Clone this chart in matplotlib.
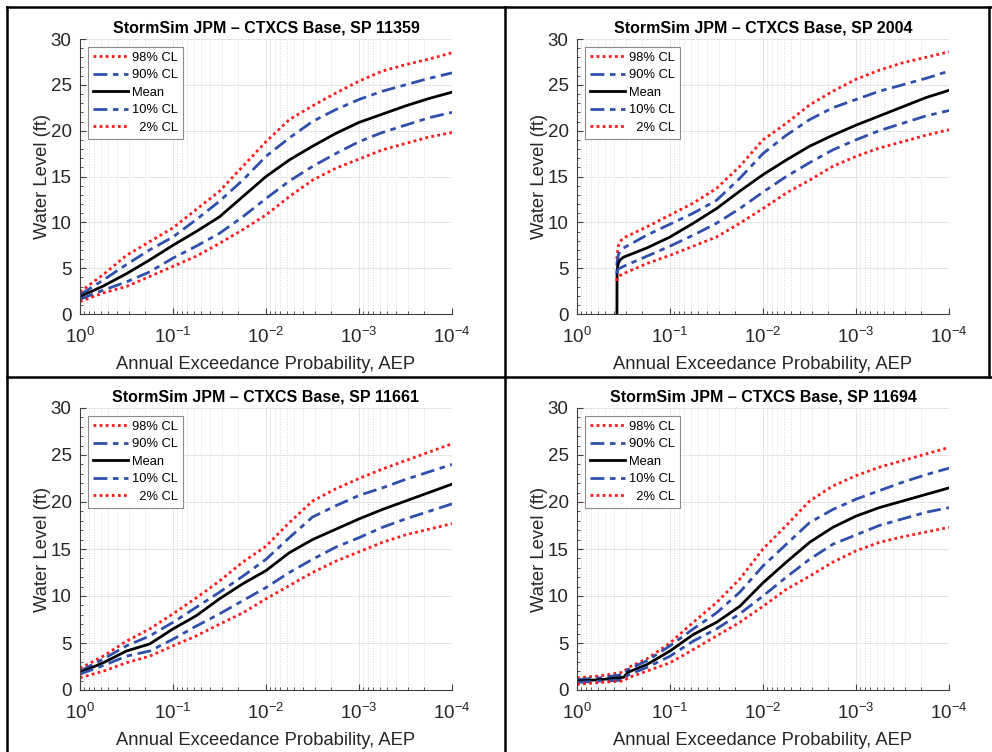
import matplotlib
matplotlib.use("Agg")
import matplotlib.pyplot as plt
from matplotlib.lines import Line2D
from matplotlib.ticker import LogLocator, MultipleLocator, NullFormatter

plt.rcParams['font.family'] = ['Liberation Sans', 'DejaVu Sans']
plt.rcParams['mathtext.fontset'] = 'custom'
plt.rcParams['mathtext.rm'] = 'Liberation Sans'
plt.rcParams['mathtext.default'] = 'regular'

# AEP values (quarter decades) used for SP 11359 and SP 11661
aep_std = [1.0, 0.5623, 0.3162, 0.1778, 0.1, 0.05623, 0.03162, 0.01778, 0.01,
           0.005623, 0.003162, 0.001778, 0.001, 0.0005623, 0.0003162, 0.0001778, 0.0001]

# SP 11359
mean_11359 = [1.9, 3.05, 4.4, 5.9, 7.5, 9.0, 10.6, 12.8, 15.0, 16.8, 18.3, 19.7, 20.9, 21.8, 22.7, 23.5, 24.2]
cl98_11359 = [2.4, 4.3, 6.4, 7.9, 9.4, 11.4, 13.4, 16.1, 18.8, 21.2, 22.7, 24.1, 25.4, 26.5, 27.2, 27.8, 28.5]
cl90_11359 = [2.1, 3.7, 5.4, 7.0, 8.4, 10.3, 12.3, 14.6, 17.2, 19.2, 21.0, 22.3, 23.4, 24.3, 25.0, 25.7, 26.3]
cl10_11359 = [1.6, 2.6, 3.5, 4.6, 6.1, 7.4, 8.8, 10.6, 12.6, 14.5, 16.1, 17.5, 18.8, 19.8, 20.6, 21.4, 22.0]
cl02_11359 = [1.35, 2.3, 3.0, 4.1, 5.2, 6.3, 7.7, 9.2, 10.8, 12.8, 14.6, 15.9, 16.9, 17.9, 18.6, 19.3, 19.8]

# SP 2004 (curve starts near AEP 0.37)
aep_2004 = [0.372, 0.371, 0.36, 0.345, 0.3162, 0.1778, 0.1, 0.05623, 0.03162, 0.01778, 0.01,
            0.005623, 0.003162, 0.001778, 0.001, 0.0005623, 0.0003162, 0.0001778, 0.0001]
mean_2004 = [0.0, 4.8, 5.5, 5.9, 6.2, 7.2, 8.4, 9.9, 11.5, 13.4, 15.2, 16.8, 18.3, 19.5, 20.6, 21.6, 22.6, 23.6, 24.4]
cl98_2004 = [6.0, 6.3, 7.4, 7.9, 8.3, 9.5, 10.8, 12.1, 13.7, 16.1, 19.0, 20.8, 22.8, 24.3, 25.6, 26.6, 27.4, 28.0, 28.6]
cl90_2004 = [5.3, 5.6, 6.4, 6.8, 7.2, 8.6, 9.8, 11.0, 12.4, 14.8, 17.5, 19.5, 21.2, 22.5, 23.4, 24.3, 25.0, 25.7, 26.5]
cl10_2004 = [4.4, 4.6, 4.9, 5.0, 5.2, 6.3, 7.4, 8.6, 9.9, 11.5, 13.3, 15.0, 16.5, 17.9, 19.0, 20.0, 20.8, 21.6, 22.2]
cl02_2004 = [3.6, 3.8, 4.1, 4.2, 4.4, 5.5, 6.4, 7.4, 8.4, 9.9, 11.5, 13.2, 14.6, 16.1, 17.2, 18.1, 18.8, 19.5, 20.1]

# SP 11661
mean_11661 = [1.85, 2.9, 4.15, 4.9, 6.5, 7.9, 9.7, 11.3, 12.7, 14.6, 16.0, 17.1, 18.2, 19.2, 20.1, 21.0, 21.9]
cl98_11661 = [2.3, 3.6, 5.2, 6.5, 8.1, 9.8, 11.6, 13.6, 15.3, 17.8, 20.1, 21.4, 22.5, 23.5, 24.4, 25.3, 26.2]
cl90_11661 = [2.0, 3.3, 4.7, 5.75, 7.2, 8.8, 10.4, 12.1, 13.9, 16.2, 18.4, 19.6, 20.7, 21.5, 22.4, 23.2, 24.0]
cl10_11661 = [1.7, 2.6, 3.6, 4.15, 5.4, 6.8, 8.1, 9.5, 10.9, 12.5, 13.9, 15.2, 16.2, 17.3, 18.2, 19.0, 19.8]
cl02_11661 = [1.3, 2.0, 2.9, 3.6, 4.7, 5.75, 7.0, 8.2, 9.7, 11.1, 12.5, 13.7, 14.7, 15.7, 16.5, 17.1, 17.7]

# SP 11694 (extra point at the small bump near AEP 0.28)
aep_11694 = [1.0, 0.5623, 0.3162, 0.2818, 0.1778, 0.1, 0.05623, 0.03162, 0.01778, 0.01,
             0.005623, 0.003162, 0.001778, 0.001, 0.0005623, 0.0003162, 0.0001778, 0.0001]
mean_11694 = [0.95, 1.1, 1.35, 1.9, 2.7, 4.15, 5.9, 7.2, 8.9, 11.4, 13.6, 15.7, 17.3, 18.5, 19.4, 20.1, 20.8, 21.5]
cl98_11694 = [1.3, 1.5, 1.9, 2.4, 3.3, 5.0, 7.2, 9.3, 11.8, 15.0, 17.5, 20.1, 21.7, 22.8, 23.7, 24.4, 25.1, 25.8]
cl90_11694 = [1.1, 1.3, 1.65, 2.2, 3.1, 4.7, 6.5, 8.2, 10.4, 13.2, 15.5, 17.8, 19.2, 20.3, 21.2, 22.1, 22.9, 23.6]
cl10_11694 = [0.8, 0.95, 1.05, 1.6, 2.4, 3.6, 5.2, 6.5, 8.1, 10.0, 12.0, 13.9, 15.5, 16.5, 17.5, 18.2, 18.9, 19.4]
cl02_11694 = [0.6, 0.8, 0.95, 1.3, 2.0, 2.9, 4.3, 5.75, 7.2, 8.9, 10.7, 12.1, 13.6, 14.8, 15.7, 16.3, 16.8, 17.3]

panels = [
    ("11359", aep_std, mean_11359, cl98_11359, cl90_11359, cl10_11359, cl02_11359),
    ("2004", aep_2004, mean_2004, cl98_2004, cl90_2004, cl10_2004, cl02_2004),
    ("11661", aep_std, mean_11661, cl98_11661, cl90_11661, cl10_11661, cl02_11661),
    ("11694", aep_11694, mean_11694, cl98_11694, cl90_11694, cl10_11694, cl02_11694),
]

W, H = 992, 752
fig = plt.figure(figsize=(W / 100, H / 100), dpi=100)

# axes boxes in pixels: left, top, right, bottom
boxes = [(80, 39, 452, 314), (577, 39, 949, 314),
         (80, 408, 452, 690), (577, 408, 949, 690)]

red = '#ff1a1a'
blue = '#2f4faa'

for (sp, aep, mean, c98, c90, c10, c02), (l, t, r, b) in zip(panels, boxes):
    ax = fig.add_axes([l / W, 1 - b / H, (r - l) / W, (b - t) / H])

    ax.plot(aep, c98, color=red, ls=(0, (1, 1.2)), lw=2.0, label='98% CL')
    ax.plot(aep, c90, color=blue, ls=(0, (5, 2, 2, 2)), lw=2.0, label='90% CL')
    ax.plot(aep, mean, color='black', lw=2.0, label='Mean')
    ax.plot(aep, c10, color=blue, ls=(0, (5, 2, 2, 2)), lw=2.0, label='10% CL')
    ax.plot(aep, c02, color=red, ls=(0, (1, 1.2)), lw=2.0, label='  2% CL')

    ax.set_xscale('log')
    ax.set_xlim(1, 1e-4)
    ax.set_ylim(0, 30)
    ax.xaxis.set_major_locator(LogLocator(base=10, numticks=10))
    ax.xaxis.set_minor_locator(LogLocator(base=10, subs=range(2, 10), numticks=10))
    ax.xaxis.set_minor_formatter(NullFormatter())
    ax.yaxis.set_major_locator(MultipleLocator(5))
    ax.yaxis.set_minor_locator(MultipleLocator(1))

    ax.grid(True, which='major', color='#e4e4e4', lw=0.7)
    ax.grid(True, which='minor', axis='x', color='#d8d8d8', ls=':', lw=0.7)
    ax.set_axisbelow(True)

    for side in ['top', 'right']:
        ax.spines[side].set_visible(False)
    for side in ['left', 'bottom']:
        ax.spines[side].set_color('#404040')
        ax.spines[side].set_linewidth(0.8)

    ax.tick_params(which='both', direction='in', colors='#404040', labelcolor='#262626')
    ax.tick_params(which='major', length=4, labelsize=13.5)
    ax.tick_params(axis='x', which='major', pad=9)
    ax.tick_params(axis='y', which='major', pad=6)
    ax.tick_params(which='minor', length=2)

    ax.set_title(f"StormSim JPM \u2013 CTXCS Base, SP {sp}", fontsize=11.5,
                 fontweight='bold', pad=5)
    ax.set_xlabel("Annual Exceedance Probability, AEP", fontsize=13.2, color='#262626', labelpad=7)
    ax.set_ylabel("Water Level (ft)", fontsize=13.2, color='#262626', labelpad=0)

    leg = ax.legend(loc='upper left', fontsize=9.3, handlelength=2.7, handletextpad=0.3,
                    labelspacing=0.42, borderpad=0.4, borderaxespad=0.6,
                    fancybox=False, framealpha=1)
    leg.get_frame().set_edgecolor('#8c8c8c')
    leg.get_frame().set_linewidth(0.8)

# table-like border lines around the panels
def hline(y, x0, x1):
    fig.add_artist(Line2D([x0 / W, x1 / W], [1 - y / H, 1 - y / H], color='black', lw=1.8))

def vline(x, y0, y1):
    fig.add_artist(Line2D([x / W, x / W], [1 - y0 / H, 1 - y1 / H], color='black', lw=1.8))

hline(7, 7, W)
hline(377, 7, W)
vline(7, 7, H)
vline(505, 7, H)
vline(989, 7, 377)

fig.savefig("out.png", dpi=100)
